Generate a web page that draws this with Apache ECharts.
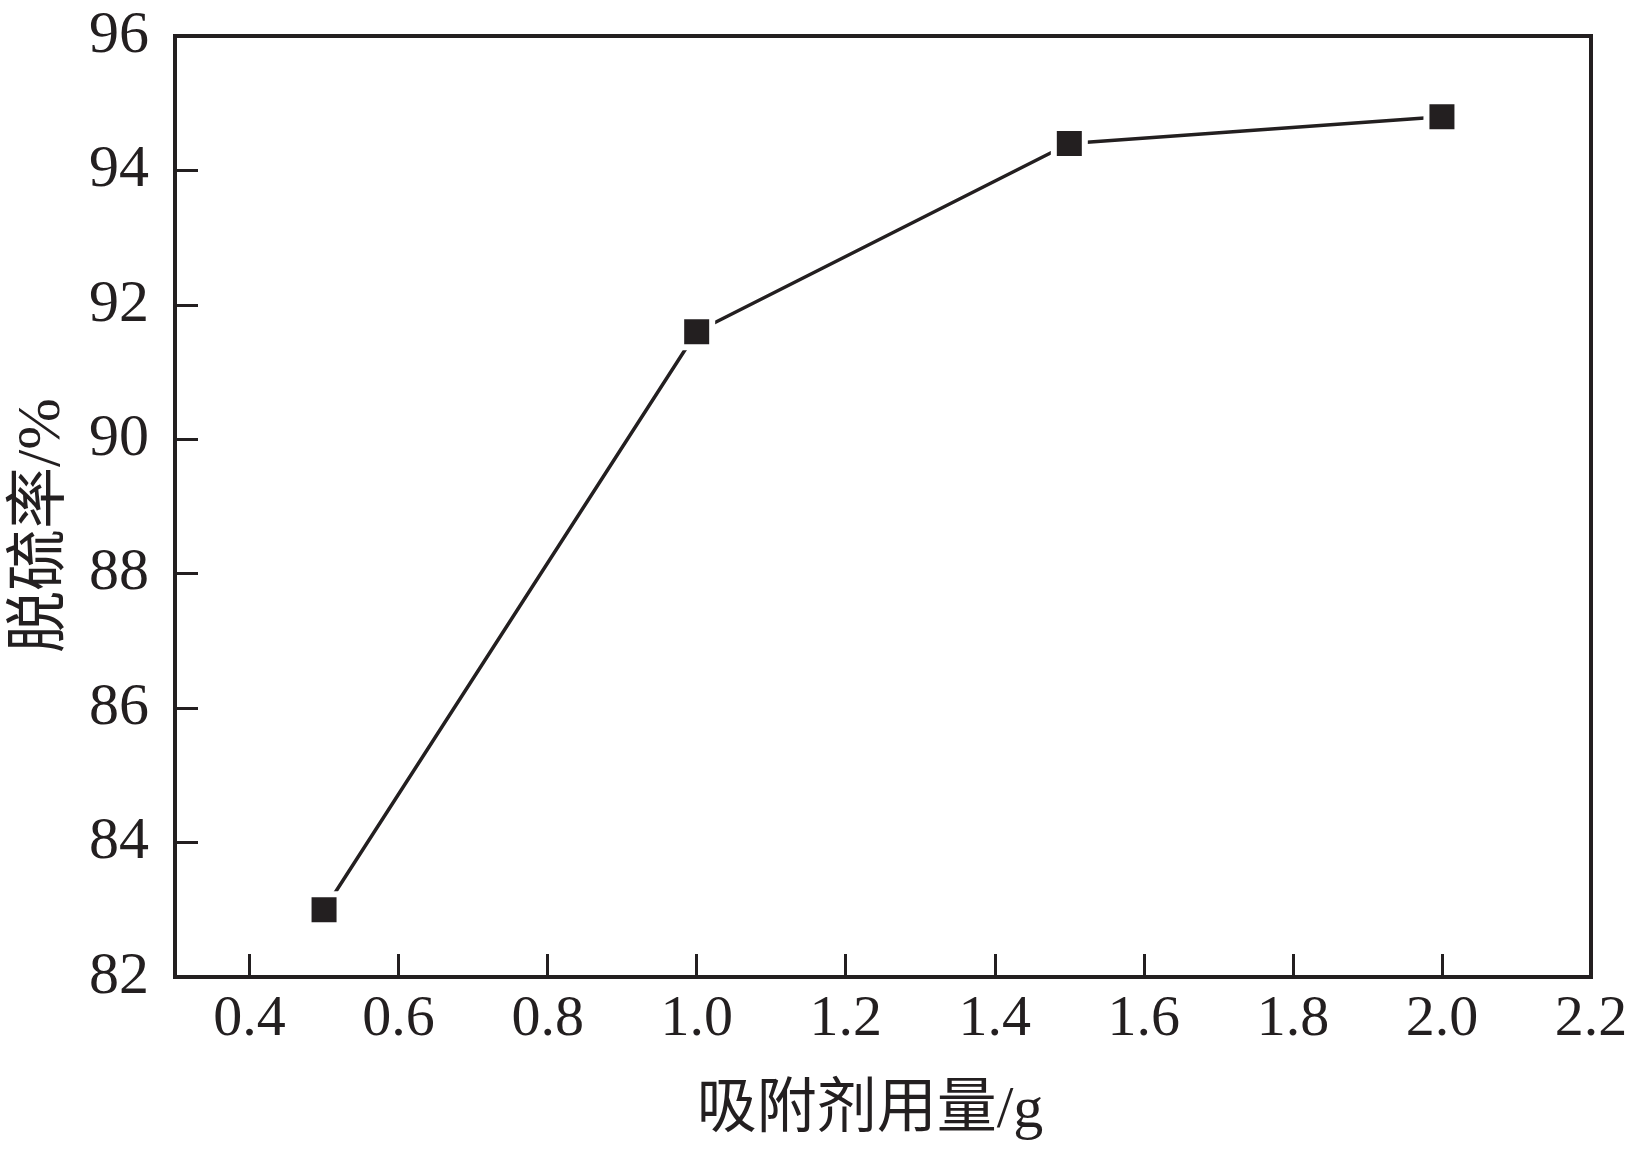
<!DOCTYPE html>
<html>
<head>
<meta charset="utf-8">
<script src="https://cdn.jsdelivr.net/npm/echarts@6/dist/echarts.min.js"></script>
<style>
html,body{margin:0;padding:0;background:#fff;}
#chart{width:1629px;height:1154px;}
</style>
</head>
<body>
<div id="chart"></div>
<script>
const xValues = [0.5, 1.0, 1.5, 2.0];
const yValues = [83.0, 91.6, 94.4, 94.8];
const xTicks = [0.4, 0.6, 0.8, 1.0, 1.2, 1.4, 1.6, 1.8, 2.0, 2.2];
const xName = '吸附剂用量/g';
const yName = '脱硫率/%';

const ink = '#231f20';
const font = "'Liberation Serif', 'Noto Sans CJK SC', serif";

const chart = echarts.init(document.getElementById('chart'), null, {renderer: 'canvas'});
chart.setOption({
  backgroundColor: '#ffffff',
  animation: false,
  grid: {left: 175, right: 38, top: 36, bottom: 177, show: true, borderColor: ink, borderWidth: 4,
    backgroundColor: 'transparent', containLabel: false, outerBoundsMode: 'none'},
  xAxis: {
    type: 'value', min: 0.3, max: 2.2,
    splitLine: {show: false},
    axisLine: {show: true, lineStyle: {color: ink, width: 4}},
    axisTick: {show: true, inside: true, length: 23, lineStyle: {color: ink, width: 3}, customValues: xTicks},
    axisLabel: {color: ink, fontFamily: font, fontSize: 58, margin: 14, customValues: xTicks,
      formatter: v => Number(v).toFixed(1)},
    name: xName, nameLocation: 'middle', nameGap: 104,
    nameTextStyle: {color: ink, fontFamily: font, fontSize: 60, padding: [0, 26, 0, 0]}
  },
  yAxis: {
    type: 'value', min: 82, max: 96, interval: 2,
    splitLine: {show: false},
    axisLine: {show: true, lineStyle: {color: ink, width: 4}},
    axisTick: {show: true, inside: true, length: 23, lineStyle: {color: ink, width: 3}},
    axisLabel: {color: ink, fontFamily: font, fontSize: 60, margin: 26},
    name: yName, nameLocation: 'middle', nameGap: 101,
    nameTextStyle: {color: ink, fontFamily: font, fontSize: 62, padding: [0, 38, 0, 0]}
  },
  series: [{
    type: 'line',
    data: xValues.map((x, i) => [x, yValues[i]]),
    symbol: 'rect', symbolSize: 31,
    itemStyle: {color: ink, borderColor: '#ffffff', borderWidth: 6},
    lineStyle: {color: ink, width: 3.5},
    z: 3
  }]
});
</script>
</body>
</html>
